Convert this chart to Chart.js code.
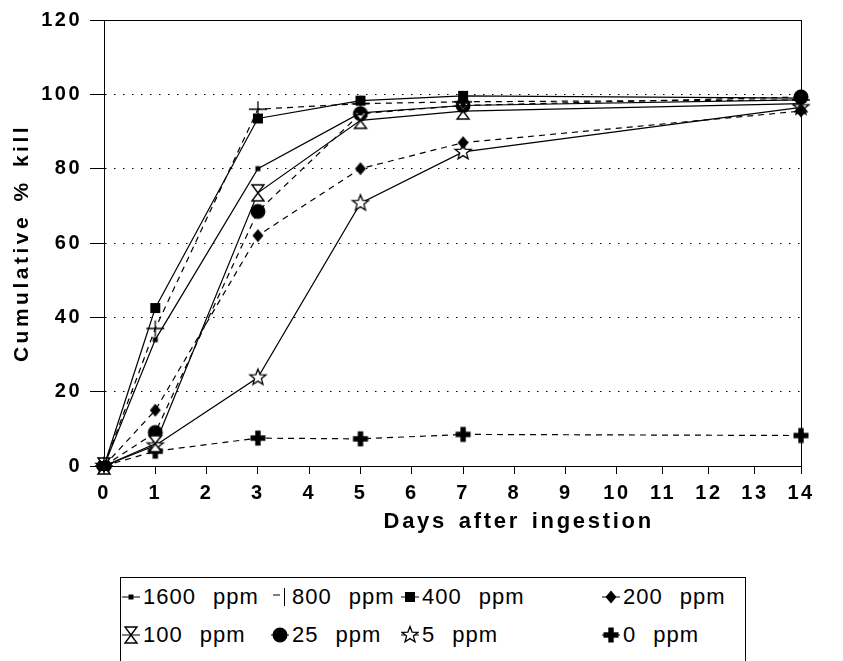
<!DOCTYPE html>
<html>
<head>
<meta charset="utf-8">
<script src="https://cdn.jsdelivr.net/npm/chart.js@4.4.1/dist/chart.umd.min.js"></script>
<style>
body { margin: 0; background: #fff; }
#wrap { position: relative; width: 843px; height: 661px; overflow: hidden; background: #fff; }
#legend { position: absolute; left: 120px; top: 577px; width: 626px; height: 140px; border: 1px solid #000; box-sizing: border-box;
  font-family: "Liberation Sans", Arial, sans-serif; font-size: 22px; color: #000; }
.item { position: absolute; height: 24px; display: flex; align-items: center; white-space: nowrap; word-spacing: 10px; letter-spacing: 1px; }
.item canvas { margin-right: 3px; }
</style>
</head>
<body>
<div id="wrap">
  <canvas id="chart-area" width="843" height="540"></canvas>
  <div id="legend"></div>
</div>
<script>
// days after ingestion at which kill was scored
var days = [0, 1, 3, 5, 7, 14];

var labels = ['1600 ppm', '800 ppm', '400 ppm', '200 ppm', '100 ppm', '25 ppm', '5 ppm', '0 ppm'];

// cumulative % kill
var kill1600 = [0, 34, 80, 95, 97, 98.5];
var kill800  = [0, 37, 96, 97.5, 98, 98.5];
var kill400  = [0, 42.5, 93.5, 98.3, 99.6, 99];
var kill200  = [0, 15, 62, 80, 87, 95.5];
var kill100  = [0, 6, 73.5, 93, 95.5, 97.5];
var kill25   = [0, 9, 68.5, 94.8, 97, 99.3];
var kill5    = [0, 5.5, 23.8, 70.7, 84.5, 96.5];
var kill0    = [0, 4, 7.5, 7.3, 8.5, 8.2];

var allKill = [kill1600, kill800, kill400, kill200, kill100, kill25, kill5, kill0];

var xTicks = [0, 1, 2, 3, 4, 5, 6, 7, 8, 9, 10, 11, 12, 13, 14];
var yTicks = [0, 20, 40, 60, 80, 100, 120];

var xTitle = 'Days after ingestion';
var yTitle = 'Cumulative % kill';

// styling per series
var markerKinds = ['smallsq', 'cross', 'square', 'diamond', 'hourglass', 'circle', 'star', 'plus'];
var dashedLine  = [false, true, false, true, false, true, false, true];

var FONT = '"Liberation Sans", Arial, sans-serif';

// the printed day axis is squeezed after day 10; keep that spacing
class DayScale extends Chart.LinearScale {
  getPixelForValue(value) {
    var knee = 10, kneeFrac = 0.736;
    var f = value <= knee ? value / knee * kneeFrac
                          : kneeFrac + (value - knee) / (this.max - knee) * (1 - kneeFrac);
    return this.getPixelForDecimal(f);
  }
}
DayScale.id = 'dayscale';
DayScale.defaults = Chart.LinearScale.defaults;
Chart.register(DayScale);

function drawMarker(g, kind, cx, cy) {
  g.strokeStyle = '#000';
  g.fillStyle = '#000';
  g.lineWidth = 1;
  if (kind === 'smallsq') {
    g.fillRect(cx - 2.5, cy - 2.5, 5, 5);
  } else if (kind === 'cross') {
    g.lineWidth = 1.3;
    g.beginPath();
    g.moveTo(cx - 9, cy); g.lineTo(cx + 9, cy);
    g.moveTo(cx, cy - 8); g.lineTo(cx, cy + 8);
    g.stroke();
  } else if (kind === 'square') {
    g.fillRect(cx - 5, cy - 5, 10, 10);
  } else if (kind === 'diamond') {
    g.beginPath();
    g.moveTo(cx, cy - 6.5); g.lineTo(cx + 5.5, cy); g.lineTo(cx, cy + 6.5); g.lineTo(cx - 5.5, cy);
    g.closePath(); g.fill();
  } else if (kind === 'hourglass') {
    g.lineWidth = 1.4;
    g.fillStyle = '#fff';
    g.beginPath();
    g.moveTo(cx - 6, cy - 8); g.lineTo(cx + 6, cy - 8); g.lineTo(cx, cy); g.closePath();
    g.moveTo(cx, cy); g.lineTo(cx + 6, cy + 8); g.lineTo(cx - 6, cy + 8); g.closePath();
    g.fill(); g.stroke();
  } else if (kind === 'circle') {
    g.beginPath(); g.arc(cx, cy, 7.5, 0, Math.PI * 2); g.fill();
  } else if (kind === 'star') {
    g.lineWidth = 1.3;
    g.fillStyle = '#fff';
    g.beginPath();
    for (var k = 0; k < 10; k++) {
      var r = k % 2 === 0 ? 8.5 : 3.6;
      var a = -Math.PI / 2 + k * Math.PI / 5;
      var px = cx + r * Math.cos(a), py = cy + r * Math.sin(a);
      if (k === 0) g.moveTo(px, py); else g.lineTo(px, py);
    }
    g.closePath(); g.fill(); g.stroke();
  } else if (kind === 'plus') {
    g.fillRect(cx - 7.5, cy - 2.7, 15, 5.4);
    g.fillRect(cx - 2.7, cy - 7.5, 5.4, 15);
  }
}

function markerCanvas(kind, w, h) {
  var c = document.createElement('canvas');
  c.width = w; c.height = h;
  drawMarker(c.getContext('2d'), kind, w / 2, h / 2);
  return c;
}

// legend key: short line stub with the marker on it
function legendCanvas(kind) {
  var w = 18, h = 22;
  var c = document.createElement('canvas');
  c.width = w; c.height = h;
  var g = c.getContext('2d');
  g.strokeStyle = '#000'; g.lineWidth = 1;
  if (kind === 'cross') {
    g.beginPath();
    g.moveTo(2, h / 2 - 2); g.lineTo(9, h / 2 - 2);
    g.moveTo(13.5, 2); g.lineTo(13.5, h - 2);
    g.stroke();
    return c;
  }
  g.beginPath(); g.moveTo(0, h / 2); g.lineTo(w, h / 2); g.stroke();
  drawMarker(g, kind, w / 2, h / 2);
  return c;
}

var datasets = allKill.map(function (vals, i) {
  return {
    label: labels[i],
    data: days.map(function (d, j) { return { x: d, y: vals[j] }; }),
    borderColor: '#000',
    borderWidth: 1.2,
    borderDash: dashedLine[i] ? [6, 5] : [],
    pointStyle: markerCanvas(markerKinds[i], 24, 24),
    pointRadius: 6,
    fill: false,
    tension: 0,
    clip: false
  };
});

// printed tick labels are widely spaced
var spacedText = {
  id: 'spacedText',
  beforeUpdate: function (chart) { chart.ctx.letterSpacing = '2.5px'; },
  beforeDraw: function (chart) { chart.ctx.letterSpacing = '2.5px'; }
};

// axis titles, set as in the print (x title sits right of centre)
var axisTitles = {
  id: 'axisTitles',
  afterDraw: function (chart) {
    var g = chart.ctx, area = chart.chartArea;
    g.save();
    g.wordSpacing = '3px';
    g.fillStyle = '#000';
    g.textAlign = 'center';
    g.textBaseline = 'middle';
    g.letterSpacing = '2.7px';
    g.font = 'bold 22px ' + FONT;
    g.fillText(xTitle, area.left + (area.right - area.left) * 0.595, 522);
    g.translate(22, (area.top + area.bottom) / 2);
    g.rotate(-Math.PI / 2);
    g.letterSpacing = '3.5px';
    g.font = 'bold 21px ' + FONT;
    g.fillText(yTitle, 0, 0);
    g.restore();
  }
};

var config = {
  type: 'line',
  data: { datasets: datasets },
  plugins: [spacedText, axisTitles],
  options: {
    responsive: false,
    animation: false,
    devicePixelRatio: 1,
    layout: { padding: { top: 19, right: 42, left: 0, bottom: 0 } },
    plugins: { legend: { display: false }, tooltip: { enabled: false } },
    scales: {
      x: {
        type: 'dayscale', min: 0, max: 14,
        afterBuildTicks: function (s) { s.ticks = xTicks.map(function (v) { return { value: v }; }); },
        afterFit: function (s) { s.height = 540 - 466; },
        ticks: { color: '#000', font: { family: FONT, size: 20, weight: 'bold' }, padding: 7, maxRotation: 0, autoSkip: false },
        grid: {
          color: function (c) { return c.tick && c.tick.value === 14 ? '#000' : 'rgba(0,0,0,0)'; },
          tickColor: '#000', tickLength: 8, lineWidth: 1
        },
        border: { color: '#000', width: 1, dash: [] },
        title: { display: false }
      },
      y: {
        min: 0, max: 120,
        afterBuildTicks: function (s) { s.ticks = yTicks.map(function (v) { return { value: v }; }); },
        afterFit: function (s) { s.width = 104; },
        ticks: { color: '#000', font: { family: FONT, size: 20, weight: 'bold' }, padding: 8 },
        grid: {
          color: function (c) { return c.tick && c.tick.value === 0 ? 'rgba(0,0,0,0)' : '#000'; },
          tickColor: '#000', tickLength: 14, lineWidth: 1, tickBorderDash: []
        },
        border: {
          color: '#000', width: 1,
          dash: function (c) { return c.tick && c.tick.value === 120 ? [] : [1.5, 7.5]; }
        },
        title: { display: false }
      }
    }
  }
};

// legend below the plot, 4 columns x 2 rows
var legendCols = [1, 150, 280, 481];
var legendRows = [7, 45];

window.onload = function () {
  var ctx = document.getElementById('chart-area').getContext('2d');
  window.myLine = new Chart(ctx, config);

  var box = document.getElementById('legend');
  labels.forEach(function (lab, i) {
    var it = document.createElement('div');
    it.className = 'item';
    it.style.left = legendCols[i % 4] + 'px';
    it.style.top = legendRows[Math.floor(i / 4)] + 'px';
    it.appendChild(legendCanvas(markerKinds[i]));
    var t = document.createElement('span');
    t.textContent = lab;
    it.appendChild(t);
    box.appendChild(it);
  });
};
</script>
</body>
</html>
